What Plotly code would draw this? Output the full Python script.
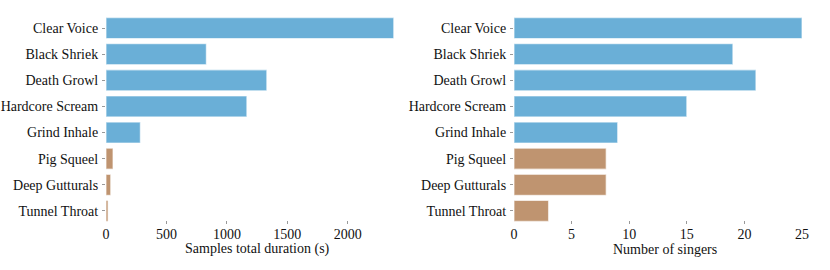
import plotly.graph_objects as go
from plotly.subplots import make_subplots

categories = ["Clear Voice", "Black Shriek", "Death Growl", "Hardcore Scream",
              "Grind Inhale", "Pig Squeel", "Deep Gutturals", "Tunnel Throat"]
duration_s = [2380, 830, 1330, 1165, 284, 58, 39, 17]
num_singers = [25, 19, 21, 15, 9, 8, 8, 3]
group = ["blue", "blue", "blue", "blue", "blue", "brown", "brown", "brown"]
colour_map = {"blue": "#6AAFD7", "brown": "#BF9470"}
colours = [colour_map[g] for g in group]
x_titles = ["Samples total duration (s)", "Number of singers"]

W, H = 830, 270
T, B = 15, 46
fig = make_subplots(rows=1, cols=2)
for col, vals in [(1, duration_s), (2, num_singers)]:
    fig.add_trace(go.Bar(
        y=categories, x=vals, orientation="h",
        marker=dict(color=colours, line=dict(color="rgba(255,255,255,0.6)", width=1.2)),
        width=0.8, showlegend=False, hoverinfo="x+y"), row=1, col=col)

font = dict(family="Liberation Serif", size=14, color="#111")
fig.update_layout(
    width=W, height=H, margin=dict(l=0, r=0, t=T, b=B, autoexpand=False),
    plot_bgcolor="white", paper_bgcolor="white", font=font, bargap=0.2,
)
fig.update_yaxes(categoryorder="array", categoryarray=categories, autorange="reversed",
                 showline=False, showgrid=False, ticks="outside", ticklen=3,
                 tickcolor="#999", tickwidth=1, ticklabelstandoff=1, automargin=False)
fig.update_xaxes(showline=False, showgrid=False, zeroline=False, ticks="inside",
                 ticklen=3, tickcolor="#999", tickwidth=1, automargin=False)
fig.update_xaxes(domain=[106/W, 394/W], range=[0, 2382], tickvals=[0, 500, 1000, 1500, 2000], row=1, col=1)
fig.update_xaxes(domain=[514/W, 802/W], range=[0, 25], tickvals=[0, 5, 10, 15, 20, 25], row=1, col=2)

plot_h = H - T - B
for title, xc in zip(x_titles, [257, 665]):
    fig.add_annotation(text=title, xref="paper", yref="paper", x=xc / W,
                       y=-(249 - (H - B)) / plot_h, xanchor="center", yanchor="middle",
                       showarrow=False, font=font)

fig.write_html("out.html", config={"displayModeBar": False},
               post_script="document.body.style.margin='0';")
